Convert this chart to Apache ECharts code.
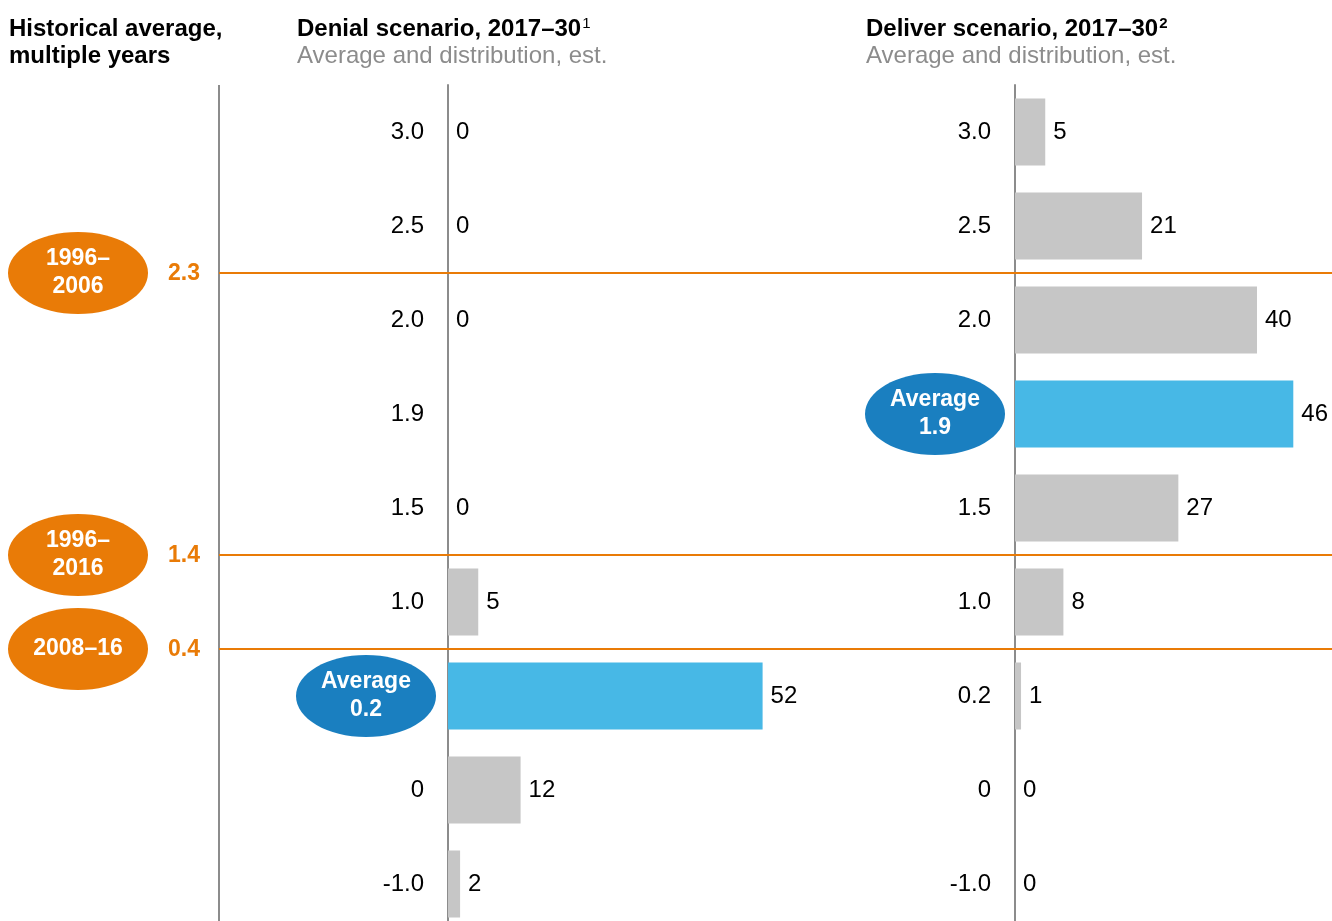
<!DOCTYPE html>
<html>
<head>
<meta charset="utf-8">
<script src="https://cdn.jsdelivr.net/npm/echarts@6/dist/echarts.min.js"></script>
<style>
  html, body { margin: 0; padding: 0; background: #fff; }
  #main { width: 1332px; height: 921px; }
</style>
</head>
<body>
<div id="main"></div>
<script>
var chart = echarts.init(document.getElementById('main'));

// filas (crecimiento, %) de arriba hacia abajo
var rows = ['3.0', '2.5', '2.0', '1.9', '1.5', '1.0', '0.2', '0', '-1.0'];
// probabilidad por fila, escenario Denial (1.9 no tiene valor)
var denialValues = [0, 0, 0, null, 0, 5, 52, 12, 2];
// probabilidad por fila, escenario Deliver
var deliverValues = [5, 21, 40, 46, 27, 8, 1, 0, 0];
var denialAverage = '0.2';
var deliverAverage = '1.9';
// promedios historicos
var historyPeriods = ['1996–\n2006', '1996–\n2016', '2008–16'];
var historyValues = [2.3, 1.4, 0.4];

var FONT = 'Arial';
var GREY = '#c6c6c6';
var LIGHT_BLUE = '#47b8e6';
var DARK_BLUE = '#1a7fc0';
var ORANGE = '#e97b07';
var AXIS_GREY = '#8c8c8c';
var PX_PER_UNIT = 6.05;

function barData(values, avg) {
  return values.map(function (v, i) {
    if (v === null) return null;
    return { value: v, itemStyle: { color: rows[i] === avg ? LIGHT_BLUE : GREY } };
  });
}

function yAxisFor(gridIndex, avg) {
  return {
    type: 'category',
    gridIndex: gridIndex,
    data: rows,
    inverse: true,
    axisTick: { show: false },
    axisLine: { show: true, lineStyle: { color: AXIS_GREY, width: 2 } },
    axisLabel: {
      margin: 24,
      fontSize: 24,
      fontFamily: FONT,
      color: '#000',
      formatter: function (v) { return v === avg ? '' : v; }
    }
  };
}

function barSeries(idx, values, avg) {
  return {
    type: 'bar',
    xAxisIndex: idx,
    yAxisIndex: idx,
    barWidth: 67,
    data: barData(values, avg),
    label: {
      show: true,
      position: 'right',
      distance: 8,
      fontSize: 24,
      fontFamily: FONT,
      color: '#000',
      formatter: '{c}'
    },
    silent: true
  };
}

var titleRich = {
  b: { fontSize: 24, fontWeight: 'bold', color: '#000', fontFamily: FONT, lineHeight: 27 },
  s: { fontSize: 15, fontWeight: 'normal', color: '#000', fontFamily: FONT, padding: [0, 0, 11, 1], lineHeight: 27 },
  sb: { fontSize: 15, fontWeight: 'bold', color: '#000', fontFamily: FONT, padding: [0, 0, 11, 1], lineHeight: 27 },
  g: { fontSize: 24, fontWeight: 'normal', color: '#8c8c8c', fontFamily: FONT, lineHeight: 27 }
};

var option = {
  animation: false,
  backgroundColor: '#fff',
  title: [
    { left: 9, top: 16, padding: 0, text: '{b|Historical average,}\n{b|multiple years}', textStyle: { rich: titleRich } },
    { left: 297, top: 16, padding: 0, text: '{b|Denial scenario, 2017–30}{s|1}\n{g|Average and distribution, est.}', textStyle: { rich: titleRich } },
    { left: 866, top: 16, padding: 0, text: '{b|Deliver scenario, 2017–30}{sb|2}\n{g|Average and distribution, est.}', textStyle: { rich: titleRich } }
  ],
  grid: [
    { left: 448, top: 85, width: 60 * PX_PER_UNIT, height: 846, outerBoundsMode: 'none' },
    { left: 1015, top: 85, width: 50 * PX_PER_UNIT, height: 846, outerBoundsMode: 'none' }
  ],
  xAxis: [
    { type: 'value', gridIndex: 0, min: 0, max: 60, show: false },
    { type: 'value', gridIndex: 1, min: 0, max: 50, show: false }
  ],
  yAxis: [yAxisFor(0, denialAverage), yAxisFor(1, deliverAverage)],
  series: [
    barSeries(0, denialValues, denialAverage),
    barSeries(1, deliverValues, deliverAverage)
  ]
};

chart.setOption(option);

// anotaciones: elipses de promedio y lineas historicas
var graphics = [];
function rowY(axisIdx, cat) {
  return chart.convertToPixel({ yAxisIndex: axisIdx }, cat);
}
function ellipse(cx, cy, color, text) {
  graphics.push({
    type: 'ellipse', z: 10,
    shape: { cx: cx, cy: cy, rx: 70, ry: 41 },
    style: { fill: color }
  });
  graphics.push({
    type: 'text', z: 11, x: cx, y: cy,
    style: {
      text: text, fill: '#fff', fontSize: 23, fontWeight: 'bold', fontFamily: FONT,
      lineHeight: 28, align: 'center', verticalAlign: 'middle',
      textAlign: 'center', textVerticalAlign: 'middle'
    }
  });
}

ellipse(448 - 82, rowY(0, denialAverage), DARK_BLUE, 'Average\n' + denialAverage);
ellipse(1015 - 80, rowY(1, deliverAverage), DARK_BLUE, 'Average\n' + deliverAverage);

// linea vertical del panel historico
graphics.push({
  type: 'line', z: 5,
  shape: { x1: 219, y1: 85, x2: 219, y2: 921 },
  style: { stroke: AXIS_GREY, lineWidth: 2 }
});

historyValues.forEach(function (v, k) {
  var i = 0;
  for (var j = 0; j < rows.length - 1; j++) {
    if (parseFloat(rows[j]) > v && parseFloat(rows[j + 1]) <= v) { i = j; break; }
  }
  var y = (rowY(0, rows[i]) + rowY(0, rows[i + 1])) / 2;
  graphics.push({
    type: 'line', z: 6,
    shape: { x1: 219, y1: y, x2: 1332, y2: y },
    style: { stroke: ORANGE, lineWidth: 2 }
  });
  ellipse(78, y, ORANGE, historyPeriods[k]);
  graphics.push({
    type: 'text', z: 11, x: 184, y: y + 1,
    style: {
      text: v.toFixed(1), fill: ORANGE, fontSize: 23, fontWeight: 'bold', fontFamily: FONT,
      align: 'center', verticalAlign: 'middle', textAlign: 'center', textVerticalAlign: 'middle'
    }
  });
});

chart.setOption({ graphic: graphics });
</script>
</body>
</html>
